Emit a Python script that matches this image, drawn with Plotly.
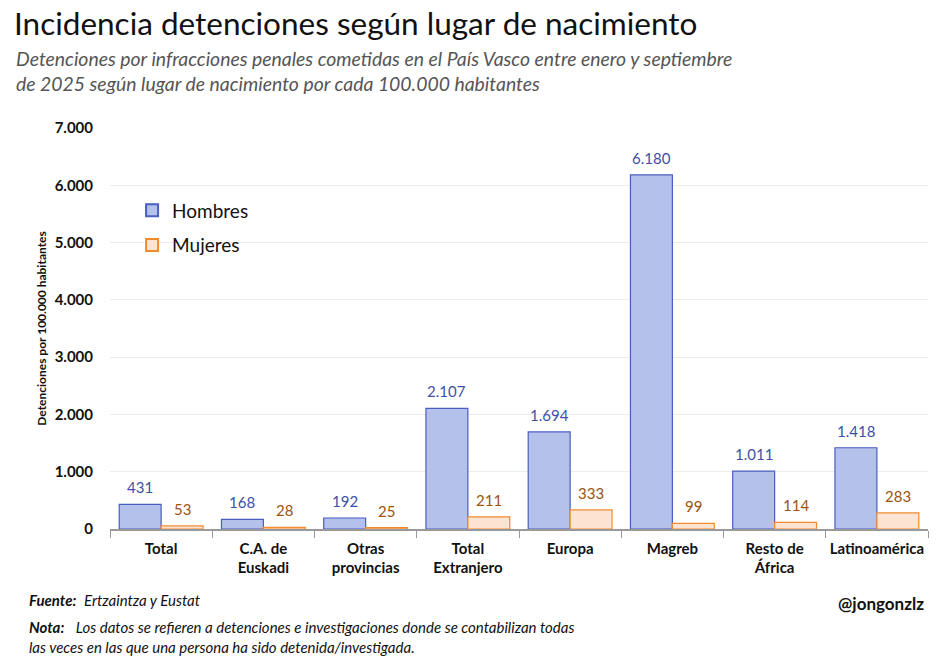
import plotly.graph_objects as go

# categorias y valores (detenciones por 100.000 habitantes, ene-sep 2025)
categorias = ["Total", "C.A. de<br>Euskadi", "Otras<br>provincias", "Total<br>Extranjero",
              "Europa", "Magreb", "Resto de<br>África", "Latinoamérica"]
hombres = [431, 168, 192, 2107, 1694, 6180, 1011, 1418]
mujeres = [53, 28, 25, 211, 333, 99, 114, 283]

FONT = "Lato"
BLUE_FILL, BLUE_LINE, BLUE_TXT = "#b4c1ea", "#4a5dc0", "#3e4fa8"
ORG_FILL, ORG_LINE, ORG_TXT = "#fde4d2", "#f28a2e", "#9c5410"

fig = go.Figure()
fig.add_trace(go.Bar(x=categorias, y=hombres, name="Hombres", legendgroup="h",
                     marker=dict(color=BLUE_FILL, line=dict(color=BLUE_LINE, width=1.2))))
fig.add_trace(go.Bar(x=categorias, y=mujeres, name="Mujeres", legendgroup="m",
                     marker=dict(color=ORG_FILL, line=dict(color=ORG_LINE, width=1.2))))

# etiquetas de valor encima de cada barra
annots = []
for cat, h, m in zip(categorias, hombres, mujeres):
    annots.append(dict(x=cat, y=h, text=f"{h:,}".replace(",", "."), showarrow=False,
                       xshift=-21, yshift=17, font=dict(family=FONT, size=15, color=BLUE_TXT)))
    annots.append(dict(x=cat, y=m, text=f"{m:,}".replace(",", "."), showarrow=False,
                       xshift=21, yshift=17, font=dict(family=FONT, size=15, color=ORG_TXT)))

# subtitulo y notas
annots += [
    dict(xref="paper", yref="paper", x=-0.117, y=1.143, xanchor="left", yanchor="middle",
         align="left", showarrow=False,
         text="<i>Detenciones por infracciones penales cometidas en el País Vasco entre enero y septiembre<br>"
              "de 2025 según lugar de nacimiento por cada 100.000 habitantes</i>",
         font=dict(family=FONT, size=19.4, color="#555555")),
    dict(xref="paper", yref="paper", x=-0.101, y=-0.177, xanchor="left", yanchor="middle",
         showarrow=False, text="<b><i>Fuente:</i></b>  <i>Ertzaintza y Eustat</i>",
         font=dict(family=FONT, size=15, color="#111111")),
    dict(xref="paper", yref="paper", x=-0.101, y=-0.27, xanchor="left", yanchor="middle",
         align="left", showarrow=False,
         text="<b><i>Nota:</i></b>   <i>Los datos se refieren a detenciones e investigaciones donde se contabilizan todas<br>"
              "las veces en las que una persona ha sido detenida/investigada.</i>",
         font=dict(family=FONT, size=15, color="#111111")),
    dict(xref="paper", yref="paper", x=0.998, y=-0.185, xanchor="right", yanchor="middle",
         showarrow=False, text="<b>@jongonzlz</b>",
         font=dict(family=FONT, size=17, color="#111111")),
]

fig.update_layout(
    width=951, height=669,
    margin=dict(l=110, r=23, t=128, b=140),
    paper_bgcolor="white", plot_bgcolor="white",
    separators=",.",
    barmode="group", bargap=0.18, bargroupgap=0,
    font=dict(family=FONT, color="#111111"),
    title=dict(text="Incidencia detenciones según lugar de nacimiento",
               xref="container", x=14 / 951, xanchor="left",
               yref="container", y=1 - 24 / 669, yanchor="middle",
               font=dict(family=FONT, size=31.5, color="#111111")),
    legend=dict(x=0.027, y=0.842, xanchor="left", yanchor="top",
                font=dict(family=FONT, size=19, color="#111111"), traceorder="grouped",
                bgcolor="rgba(255,255,255,0)", itemsizing="constant", tracegroupgap=7),
    annotations=annots,
    showlegend=True,
)
fig.update_yaxes(range=[0, 7000], dtick=1000, tickformat=",d", automargin=False,
                 tickfont=dict(family=FONT, size=15, color="#111111", weight="bold"),
                 gridcolor="#ececec", zeroline=False, ticks="", ticklabelstandoff=16,
                 title=dict(text="Detenciones por 100.000 habitantes", standoff=5,
                            font=dict(family=FONT, size=12, color="#111111", weight="bold")))
fig.update_xaxes(showline=True, linecolor="#999999", linewidth=1.5, automargin=False,
                 tickangle=0, ticks="outside", tickson="boundaries", ticklen=7, tickcolor="#999999",
                 ticklabelstandoff=5,
                 tickfont=dict(family=FONT, size=15, color="#111111", weight="bold"))

# quitar el margen del body para que la figura quede en la esquina
fig.write_html("out.html", config={"displayModeBar": False},
               post_script="document.body.style.margin='0';")
